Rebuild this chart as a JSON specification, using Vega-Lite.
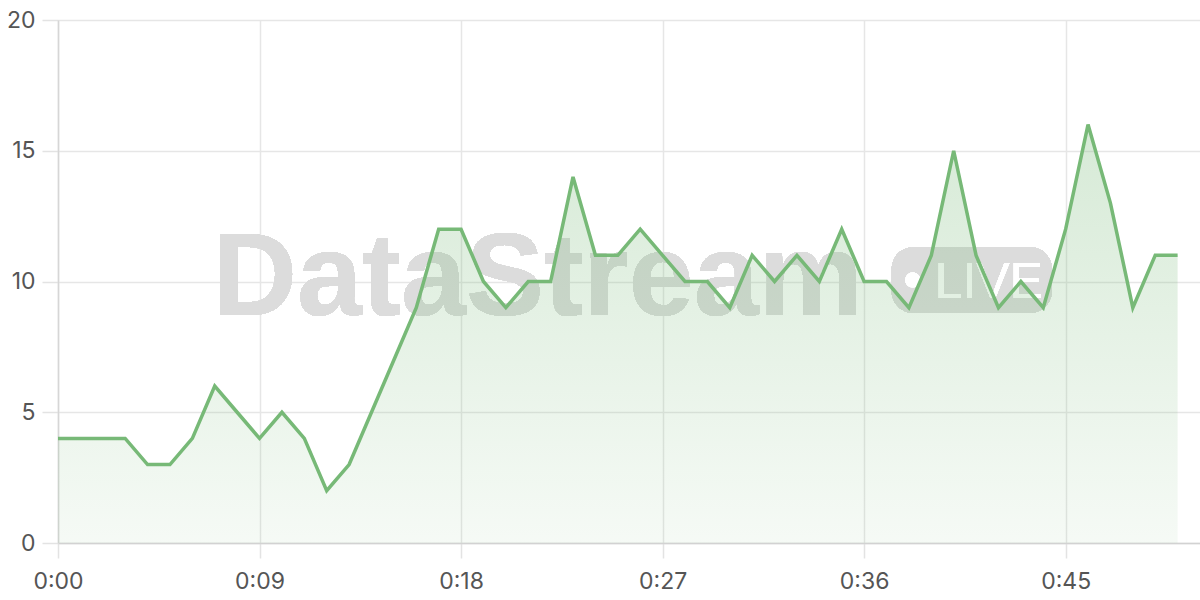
{
  "$schema": "https://vega.github.io/schema/vega-lite/v6.json",
  "width": 1142,
  "height": 523,
  "autosize": {"type": "none"},
  "padding": {"left": 58, "top": 20, "right": 0, "bottom": 57},
  "background": "#ffffff",
  "data": {
    "values": [
      {"t": 0, "v": 4}, {"t": 1, "v": 4}, {"t": 2, "v": 4}, {"t": 3, "v": 4},
      {"t": 4, "v": 3}, {"t": 5, "v": 3}, {"t": 6, "v": 4}, {"t": 7, "v": 6},
      {"t": 8, "v": 5}, {"t": 9, "v": 4}, {"t": 10, "v": 5}, {"t": 11, "v": 4},
      {"t": 12, "v": 2}, {"t": 13, "v": 3}, {"t": 14, "v": 5}, {"t": 15, "v": 7},
      {"t": 16, "v": 9}, {"t": 17, "v": 12}, {"t": 18, "v": 12}, {"t": 19, "v": 10},
      {"t": 20, "v": 9}, {"t": 21, "v": 10}, {"t": 22, "v": 10}, {"t": 23, "v": 14},
      {"t": 24, "v": 11}, {"t": 25, "v": 11}, {"t": 26, "v": 12}, {"t": 27, "v": 11},
      {"t": 28, "v": 10}, {"t": 29, "v": 10}, {"t": 30, "v": 9}, {"t": 31, "v": 11},
      {"t": 32, "v": 10}, {"t": 33, "v": 11}, {"t": 34, "v": 10}, {"t": 35, "v": 12},
      {"t": 36, "v": 10}, {"t": 37, "v": 10}, {"t": 38, "v": 9}, {"t": 39, "v": 11},
      {"t": 40, "v": 15}, {"t": 41, "v": 11}, {"t": 42, "v": 9}, {"t": 43, "v": 10},
      {"t": 44, "v": 9}, {"t": 45, "v": 12}, {"t": 46, "v": 16}, {"t": 47, "v": 13},
      {"t": 48, "v": 9}, {"t": 49, "v": 11}, {"t": 50, "v": 11}
    ]
  },
  "encoding": {
    "x": {
      "field": "t",
      "type": "quantitative",
      "scale": {"domain": [0, 51], "nice": false, "zero": false},
      "axis": {
        "title": null,
        "values": [0, 9, 18, 27, 36, 45],
        "labelExpr": "'0:' + (datum.value < 10 ? '0' : '') + datum.value",
        "grid": true,
        "gridColor": "#e6e6e6",
        "gridWidth": 1.5,
        "ticks": true,
        "tickColor": "#e3e3e3",
        "tickWidth": 1.5,
        "tickSize": 15,
        "domainColor": "#d2d2d2",
        "domainWidth": 1.5,
        "labelFont": "Inter",
        "labelFontSize": 23,
        "labelColor": "#555555",
        "labelPadding": 12,
        "labelFlush": false
      }
    },
    "y": {
      "field": "v",
      "type": "quantitative",
      "scale": {"domain": [0, 20], "nice": false},
      "axis": {
        "title": null,
        "values": [0, 5, 10, 15, 20],
        "grid": true,
        "gridColor": "#e6e6e6",
        "gridWidth": 1.5,
        "ticks": true,
        "tickColor": "#e3e3e3",
        "tickWidth": 1.5,
        "tickSize": 16,
        "domainColor": "#d6d6d6",
        "domainWidth": 1.5,
        "labelFont": "Inter",
        "labelFontSize": 23,
        "labelColor": "#555555",
        "labelPadding": 7
      }
    }
  },
  "layer": [
    {
      "mark": {"type": "text", "text": "DataStream", "font": "Liberation Sans", "fontWeight": "bold", "fontSize": 117, "align": "left", "baseline": "alphabetic", "color": "#dcdcdc"},
      "encoding": {"x": {"datum": 6.9}, "y": {"datum": 8.72}}
    },
    {
      "mark": {"type": "rect", "color": "#dcdcdc", "cornerRadius": 22},
      "encoding": {"x": {"datum": 37.23}, "x2": {"datum": 44.38}, "y": {"datum": 11.32}, "y2": {"datum": 8.8}}
    },
    {
      "mark": {"type": "point", "filled": true, "color": "#ffffff", "opacity": 1, "size": 220},
      "encoding": {"x": {"datum": 38.17}, "y": {"datum": 10.06}}
    },
    {
      "mark": {"type": "text", "text": "LIVE", "font": "Liberation Sans", "fontSize": 50, "align": "left", "baseline": "alphabetic", "color": "#ffffff"},
      "encoding": {"x": {"datum": 39.15}, "y": {"datum": 9.37}}
    },
    {
      "mark": {
        "type": "area",
        "color": {
          "gradient": "linear",
          "x1": 1, "y1": 1, "x2": 1, "y2": 0,
          "stops": [
            {"offset": 0, "color": "rgba(120,185,120,0.07)"},
            {"offset": 1, "color": "rgba(120,185,120,0.3)"}
          ]
        }
      }
    },
    {
      "mark": {"type": "line", "color": "#77b977", "strokeWidth": 3.5, "strokeJoin": "miter"}
    }
  ],
  "config": {"view": {"stroke": null}}
}
